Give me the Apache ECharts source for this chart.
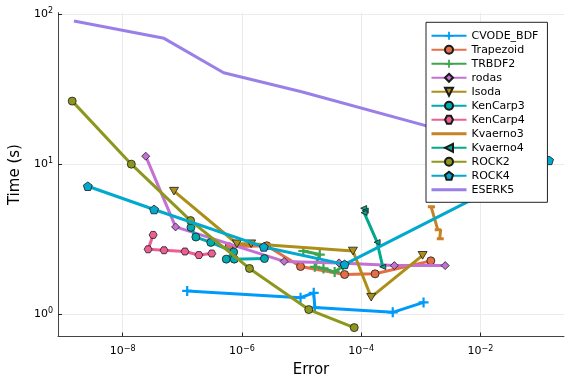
<!DOCTYPE html>
<html><head><meta charset="utf-8">
<script src="https://cdn.jsdelivr.net/npm/echarts@6/dist/echarts.min.js"></script>
<style>html,body{margin:0;padding:0;background:#fff}#c{width:576px;height:384px}</style>
</head><body><div id="c"></div>
<script>
// ---- data (Error, Time in s) ----
const seriesNames = ['CVODE_BDF','Trapezoid','TRBDF2','rodas','Isoda','KenCarp3','KenCarp4','Kvaerno3','Kvaerno4','ROCK2','ROCK4','ESERK5'];
const cvodeBdf = [[1.21e-7,1.43],[9.62e-6,1.29],[1.60e-5,1.39],[1.67e-5,1.11],[3.38e-4,1.03],[1.11e-3,1.20]];
const trapezoid = [[6.07e-7,2.82],[2.61e-6,2.86],[9.62e-6,2.08],[5.27e-5,1.84],[1.71e-4,1.86],[1.47e-3,2.27]];
const trbdf2 = [[1.07e-5,2.64],[2.02e-5,2.50],[1.67e-5,2.07],[2.33e-5,2.02],[3.59e-5,1.91],[4.95e-5,2.09]];
const rodas = [[2.44e-8,11.3],[7.73e-8,3.82],[5.11e-6,2.25],[4.25e-5,2.20],[3.59e-4,2.11],[2.56e-3,2.11]];
const isoda = [[7.27e-8,6.61],[8.25e-7,2.95],[1.43e-6,2.95],[7.27e-5,2.64],[1.47e-4,1.30],[1.07e-3,2.47]];
const kenCarp3 = [[1.40e-7,3.79],[1.69e-7,3.27],[3.01e-7,3.01],[7.27e-7,2.60],[5.47e-7,2.33],[7.44e-7,2.33],[2.39e-6,2.35]];
const kenCarp4 = [[3.25e-8,3.38],[2.68e-8,2.71],[4.95e-8,2.67],[1.11e-7,2.62],[1.90e-7,2.48],[3.13e-7,2.54]];
const kvaerno3 = [[1.31e-3,5.21],[1.71e-3,5.21],[1.50e-3,5.13],[1.92e-3,3.66],[1.71e-3,3.66],[2.15e-3,3.66],[2.07e-3,3.19],[1.85e-3,3.19],[2.42e-3,3.19]];
const kvaerno4 = [[1.10e-4,5.09],[1.17e-4,4.90],[1.12e-4,4.75],[1.85e-4,3.02],[2.30e-4,2.07]];
const rock2 = [[1.43e-9,26.3],[1.40e-8,10.0],[1.38e-7,4.21],[1.34e-6,2.02],[1.32e-5,1.075],[7.64e-5,0.815]];
const rock4 = [[2.61e-9,7.13],[3.37e-8,4.99],[2.33e-6,2.81],[5.27e-5,2.15],[0.141,10.6]];
const eserk5 = [[1.53e-9,89.8],[4.95e-8,68.9],[4.95e-7,40.6],[1e-5,30.4],[4.6e-3,15.6]];
const xTickValues = [1e-8,1e-6,1e-4,1e-2];
const yTickValues = [1,10,100];

// ---- styles ----
const colors = ['#009AFA','#E36F47','#3EA44E','#C371D2','#AC8E18','#00AAAE','#ED5E93','#C68225','#00A98D','#8E971D','#00A9CD','#9B7FE9'];
const P = {
  plus: 'path://M-1,-0.22L-0.22,-0.22L-0.22,-1L0.22,-1L0.22,-0.22L1,-0.22L1,0.22L0.22,0.22L0.22,1L-0.22,1L-0.22,0.22L-1,0.22Z',
  diamond: 'path://M0,-1L1,0L0,1L-1,0Z',
  dtri: 'path://M-1,-0.85L1,-0.85L0,0.85Z',
  hex: 'path://M-1,0L-0.5,-0.866L0.5,-0.866L1,0L0.5,0.866L-0.5,0.866Z',
  pent: 'path://M0,-1L0.951,-0.309L0.588,0.809L-0.588,0.809L-0.951,-0.309Z',
  ltri: 'path://M-1,0L1,-0.9L1,0.9Z'
};
const datasets = [cvodeBdf,trapezoid,trbdf2,rodas,isoda,kenCarp3,kenCarp4,kvaerno3,kvaerno4,rock2,rock4,eserk5];
const symbols = [P.plus,'circle',P.plus,P.diamond,P.dtri,'circle',P.hex,'none',P.ltri,'circle',P.pent,'none'];
const sizes = [10,8,10,8,9,8,8,0,6,8,9,0];

const series = datasets.map((d,i)=>({
  name: seriesNames[i], type:'line', data:d, color: colors[i],
  symbol: symbols[i], symbolSize: sizes[i], symbolKeepAspect: true, showSymbol: symbols[i] !== 'none',
  lineStyle:{width:3, color: colors[i]},
  itemStyle:{color: colors[i], borderColor: (symbols[i]===P.plus)? colors[i] : '#1a1a1a', borderWidth: (symbols[i]===P.plus)?0:0.8},
  emphasis:{disabled:true}, z: 2+i*0.01
}));

const legendData = seriesNames.map((n,i)=> symbols[i]==='none'
  ? {name:n, itemStyle:{opacity:0, borderWidth:0}, lineStyle:{color:colors[i], width:3, opacity:1}}
  : {name:n});

const supFmt = v => {
  const e = Math.round(Math.log10(v));
  return '10{s|' + (e<0 ? '\u2212'+(-e) : ''+e) + '}';
};
const font = 'DejaVu Sans';
const chart = echarts.init(document.getElementById('c'));
chart.setOption({
  animation:false,
  backgroundColor:'#fff',
  textStyle:{fontFamily:font},
  grid:{left:55, right:12, top:12.7, bottom:47.5, containLabel:false},
  legend:{
    orient:'vertical', left:426, top:22.3, itemWidth:35, itemHeight:10, itemGap:3,
    padding:[8,9,7,4], borderColor:'#222', borderWidth:1, backgroundColor:'#fff',
    textStyle:{fontFamily:font, fontSize:11, color:'#000'}, data: legendData
  },
  xAxis:{
    type:'log', logBase:10, min: Math.pow(10,-9.083), max: Math.pow(10,-0.6),
    name:'Error', nameLocation:'middle', nameGap:26,
    nameTextStyle:{fontFamily:font, fontSize:15, color:'#000'},
    axisLine:{show:true, lineStyle:{color:'#444', width:1}},
    axisTick:{show:true, inside:true, length:4, customValues:xTickValues, lineStyle:{color:'#222'}},
    axisLabel:{customValues:xTickValues, formatter:supFmt, margin:8, color:'#000', fontSize:11, fontFamily:font,
      rich:{s:{fontSize:8, fontFamily:font, color:'#000', verticalAlign:'top', padding:[0,0,6,0]}}},
    splitLine:{show:true, lineStyle:{color:'#ebebeb', width:1}}
  },
  yAxis:{
    type:'log', logBase:10, min: Math.pow(10,-0.148), max: Math.pow(10,2.009),
    name:'Time (s)', nameLocation:'middle', nameGap:35, nameRotate:90,
    nameTextStyle:{fontFamily:font, fontSize:15, color:'#000'},
    axisLine:{show:true, lineStyle:{color:'#444', width:1}},
    axisTick:{show:true, inside:true, length:4, customValues:yTickValues, lineStyle:{color:'#222'}},
    axisLabel:{customValues:yTickValues, formatter:supFmt, margin:5, color:'#000', fontSize:11, fontFamily:font,
      rich:{s:{fontSize:8, fontFamily:font, color:'#000', verticalAlign:'top', padding:[0,0,6,0]}}},
    splitLine:{show:true, lineStyle:{color:'#ebebeb', width:1}}
  },
  series: series
});
</script></body></html>
